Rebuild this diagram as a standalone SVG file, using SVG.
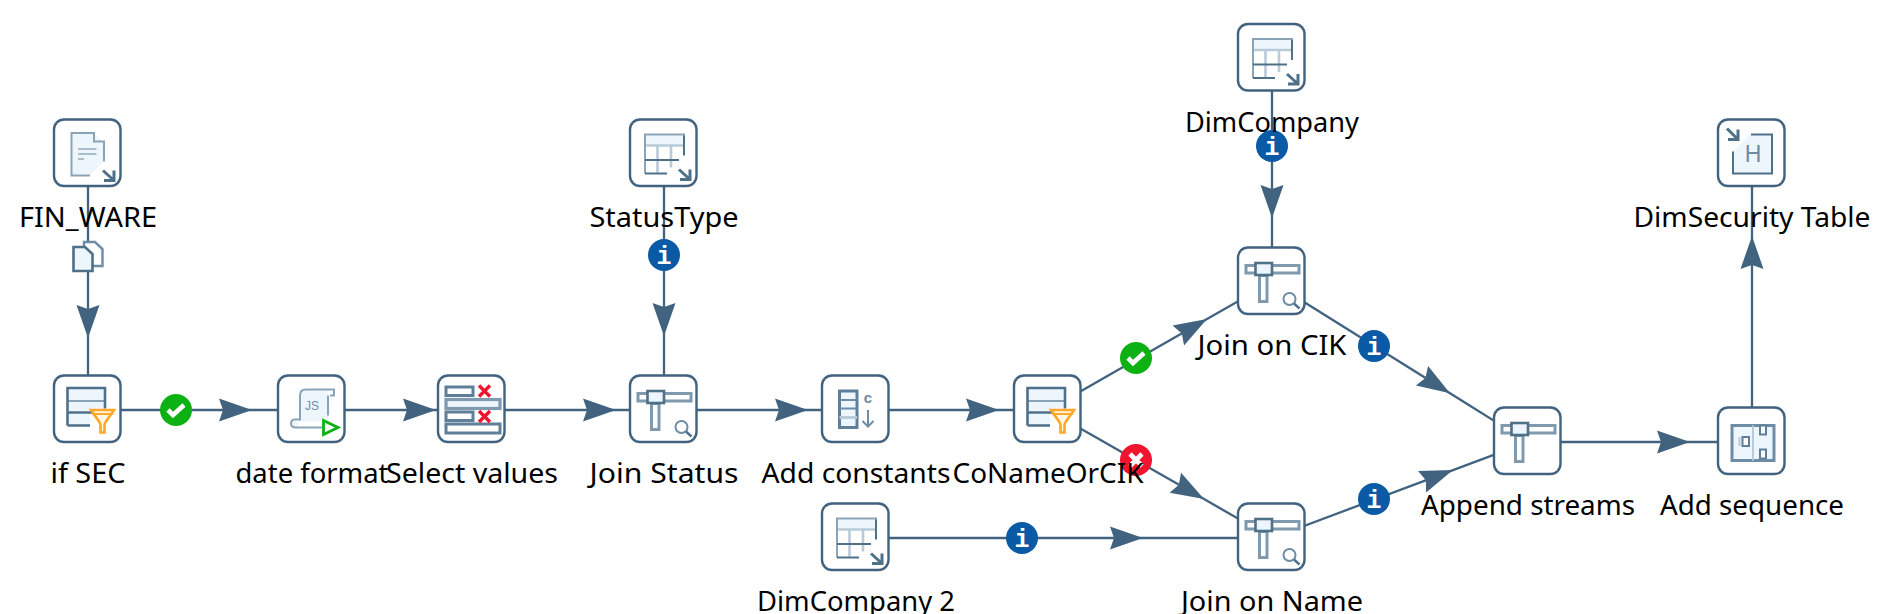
<svg xmlns="http://www.w3.org/2000/svg" xmlns:xlink="http://www.w3.org/1999/xlink" width="1886" height="614" viewBox="0 0 1886 614">
<style>
.box{fill:#fff;stroke:#41637f;stroke-width:2.4}
.lbl{font-family:"Noto Sans","DejaVu Sans",sans-serif;font-size:28px;fill:#000;text-anchor:middle}
.conn{fill:none;stroke:#41637f;stroke-width:2.3;marker-mid:url(#arr)}
.d{fill:none;stroke:#4f7089;stroke-width:2}
.m{fill:none;stroke:#8ba3b7;stroke-width:2}
.l{fill:#eef6fd;stroke:none}
.rx{fill:none;stroke:#f0142f;stroke-width:3.4}
.ic{font-family:"Liberation Sans",sans-serif;fill:#6e8ca5;text-anchor:middle}
.info{font-family:"Liberation Mono",monospace;font-weight:bold;font-size:25px;fill:#fff;text-anchor:middle}
</style>
<defs>
<marker id="arr" markerUnits="userSpaceOnUse" orient="auto" viewBox="-34 -14 36 28" refX="0" refY="0" markerWidth="36" markerHeight="28"><path d="M0,0 L-33,-11.5 L-29,0 L-33,11.5Z" fill="#41637f"/></marker>
<path id="corner" d="M49,50 L60,60 M60,50 V60 H50" fill="none" stroke="#4f7089" stroke-width="3"/>
<g id="table">
<path class="l" d="M16,16 H54 V26 H16Z"/>
<path d="M16,26 H54 M27.500,27 V53 M41,27 V48" fill="none" stroke="#b9cbd8" stroke-width="2.600"/>
<path class="m" d="M15,54 V15 H54 V35" stroke-width="3"/>
<path class="d" d="M15,40.500 H49 M15,54 H37 M54,16 V36"/>
<use xlink:href="#corner"/>
</g>
<g id="filter">
<path class="l" d="M14,13 H51 V38 H36 V50 H14Z"/>
<path class="m" d="M13,25.500 H51" stroke-width="3"/>
<path d="M13.500,50 V12.500 H51 V33 M13.500,37 H38 M13.500,50 H36" fill="none" stroke="#4f7089" stroke-width="2.600"/>
<path d="M37,34.500 H60 L52,46 L50.500,49 V57 H46.500 V49 L45,46Z" fill="#fff6e8" stroke="#ffa726" stroke-width="2.600"/>
<path d="M38,38.500 H59" stroke="#ffa726" stroke-width="2"/>
</g>
<g id="join">
<rect x="8" y="18" width="53" height="7.500" fill="#fff" stroke="#7f99ae" stroke-width="3"/>
<rect x="21.500" y="28" width="7.500" height="26" fill="#fff" stroke="#7f99ae" stroke-width="3"/>
<rect x="17.500" y="15.500" width="16.500" height="12" fill="#eef6fd" stroke="#4f7089" stroke-width="2.600"/>
</g>
<g id="lens"><circle cx="51.500" cy="51.500" r="6" fill="none" stroke="#6e8ca5" stroke-width="2"/><path d="M56,56 L61.500,61" stroke="#4f7089" stroke-width="2.400"/></g>
<g id="ok"><circle r="16" fill="#0eb114"/><path d="M-8,0 L-3,5 L8,-5" fill="none" stroke="#fff" stroke-width="4.600"/></g>
<g id="bad"><circle r="16" fill="#f0142f"/><path d="M-6,-6 L6,6 M6,-6 L-6,6" fill="none" stroke="#fff" stroke-width="4.600"/></g>
<g id="inf"><circle r="16" fill="#0a5aa5"/><text class="info" y="9">i</text></g>
</defs>
<rect width="1886" height="614" fill="#fff"/>

<g id="connectors">
<path class="conn" d="M88,154 L88,338 L88,410"/>
<path class="conn" d="M88,410 L252,410 L312,410"/>
<path class="conn" d="M312,410 L436,410 L472,410"/>
<path class="conn" d="M472,410 L616,410 L664,410"/>
<path class="conn" d="M664,154 L664,336 L664,410"/>
<path class="conn" d="M664,410 L808,410 L856,410"/>
<path class="conn" d="M856,410 L999,410 L1048,410"/>
<path class="conn" d="M1048,410 L1207,319.100 L1272,282"/>
<path class="conn" d="M1048,410 L1204,499.100 L1272,538"/>
<path class="conn" d="M856,538 L1143,538 L1272,538"/>
<path class="conn" d="M1272,58 L1272,218 L1272,282"/>
<path class="conn" d="M1272,282 L1450,393.300 L1528,442"/>
<path class="conn" d="M1272,538 L1453,470.100 L1528,442"/>
<path class="conn" d="M1528,442 L1690,442 L1752,442"/>
<path class="conn" d="M1752,442 L1752,236 L1752,154"/>
<g id="copy-hint">
<path d="M84,242 H95 L102.500,249 V266 H84Z" fill="#fff" stroke="#6e8ca5" stroke-width="2.400"/>
<path d="M73.500,247 H85 L92.500,254 V271 H73.500Z" fill="#eef6fd" stroke="#4f7089" stroke-width="2.600"/>
</g>
<use xlink:href="#ok" x="176" y="410"/>
<use xlink:href="#ok" x="1136" y="358"/>
<use xlink:href="#bad" x="1136" y="460"/>
<use xlink:href="#inf" x="664" y="255"/>
<use xlink:href="#inf" x="1272" y="146"/>
<use xlink:href="#inf" x="1374" y="346"/>
<use xlink:href="#inf" x="1374" y="499"/>
<use xlink:href="#inf" x="1022" y="538"/>
</g>

<g id="FIN_WARE" transform="translate(54,119.500)">
<rect class="box" width="66.500" height="66.500" rx="10"/>
<path class="l" d="M18,14 H40 L50,23 V42 L36,55 H18Z"/>
<path class="m" d="M36,56 H17.500 V13.500 H40 V22 H50 V42" stroke-width="2.800"/>
<path d="M24,29.500 H42.500 M24,34.500 H42.500 M24,39.500 H30" stroke="#a9bdcc" stroke-width="2"/>
<use xlink:href="#corner" y="1"/>
<text class="lbl" x="34" y="107.500" textLength="138" lengthAdjust="spacingAndGlyphs">FIN_WARE</text>
</g>
<g id="if-SEC" transform="translate(54,375.500)">
<rect class="box" width="66.500" height="66.500" rx="10"/>
<use xlink:href="#filter"/>
<text class="lbl" x="34" y="107.500" textLength="75" lengthAdjust="spacingAndGlyphs">if SEC</text>
</g>
<g id="date-format" transform="translate(278,375.500)">
<rect class="box" width="66.500" height="66.500" rx="10"/>
<path class="l" d="M22,14 H50 V46 H14 V52 H40 V52 H20Z"/>
<path class="m" d="M52,20 H56 V14 H28 Q22,14 22,20 V44 H17 Q13,44 13,48 Q13,52 18,52 H44 M50,20 V40" stroke-width="3"/>
<text class="ic" x="34" y="34" font-size="12">JS</text>
<path d="M45.500,45 L60,52 L45.500,59Z" fill="#fff" stroke="#0eb114" stroke-width="2.800"/>
<text class="lbl" x="34" y="107.500" textLength="153" lengthAdjust="spacingAndGlyphs">date format</text>
</g>
<g id="Select-values" transform="translate(438,375.500)">
<rect class="box" width="66.500" height="66.500" rx="10"/>
<rect x="8" y="11.500" width="27" height="8.500" fill="#fff" stroke="#5f7f99" stroke-width="3"/>
<rect x="8" y="24" width="54" height="9" fill="#eef6fd" stroke="#7f99ae" stroke-width="3.200"/>
<rect x="8" y="36.500" width="27" height="8.500" fill="#fff" stroke="#5f7f99" stroke-width="3"/>
<rect x="8" y="48.500" width="54" height="9" fill="#fff" stroke="#5f7f99" stroke-width="3"/>
<path class="rx" d="M41,10 L52,21 M52,10 L41,21 M41,35.500 L52,46.500 M52,35.500 L41,46.500"/>
<text class="lbl" x="34" y="107.500" textLength="172" lengthAdjust="spacingAndGlyphs">Select values</text>
</g>
<g id="StatusType" transform="translate(630,119.500)">
<rect class="box" width="66.500" height="66.500" rx="10"/>
<use xlink:href="#table"/>
<text class="lbl" x="34" y="107.500" textLength="149" lengthAdjust="spacingAndGlyphs">StatusType</text>
</g>
<g id="Join-Status" transform="translate(630,375.500)">
<rect class="box" width="66.500" height="66.500" rx="10"/>
<use xlink:href="#join"/><use xlink:href="#lens"/>
<text class="lbl" x="34" y="107.500" textLength="149" lengthAdjust="spacingAndGlyphs">Join Status</text>
</g>
<g id="Add-constants" transform="translate(822,375.500)">
<rect class="box" width="66.500" height="66.500" rx="10"/>
<rect x="17.500" y="15.500" width="17.500" height="36.500" fill="#eef6fd" stroke="#5f7f99" stroke-width="3"/>
<path d="M17.500,24.500 H35 M17.500,33 H35" stroke="#6e8ca5" stroke-width="2"/>
<path d="M17.500,42 H35" stroke="#b9cbd8" stroke-width="3"/>
<text class="ic" x="46" y="27" font-size="15" font-weight="bold">c</text>
<path d="M46,34.500 V51 M40.500,45.500 L46,51 L51.500,45.500" fill="none" stroke="#6e8ca5" stroke-width="2"/>
<text class="lbl" x="34" y="107.500" textLength="189" lengthAdjust="spacingAndGlyphs">Add constants</text>
</g>
<g id="CoNameOrCIK" transform="translate(1014,375.500)">
<rect class="box" width="66.500" height="66.500" rx="10"/>
<use xlink:href="#filter"/>
<text class="lbl" x="34" y="107.500" textLength="191" lengthAdjust="spacingAndGlyphs">CoNameOrCIK</text>
</g>
<g id="DimCompany-2" transform="translate(822,503.500)">
<rect class="box" width="66.500" height="66.500" rx="10"/>
<use xlink:href="#table"/>
<text class="lbl" x="34" y="107.500" textLength="198" lengthAdjust="spacingAndGlyphs">DimCompany 2</text>
</g>
<g id="DimCompany" transform="translate(1238,24)">
<rect class="box" width="66.500" height="66.500" rx="10"/>
<use xlink:href="#table"/>
<text class="lbl" x="34" y="107.500" textLength="174" lengthAdjust="spacingAndGlyphs">DimCompany</text>
</g>
<g id="Join-on-CIK" transform="translate(1238,247.500)">
<rect class="box" width="66.500" height="66.500" rx="10"/>
<use xlink:href="#join"/><use xlink:href="#lens"/>
<text class="lbl" x="34" y="107.500" textLength="149" lengthAdjust="spacingAndGlyphs">Join on CIK</text>
</g>
<g id="Join-on-Name" transform="translate(1238,503.500)">
<rect class="box" width="66.500" height="66.500" rx="10"/>
<use xlink:href="#join"/><use xlink:href="#lens"/>
<text class="lbl" x="34" y="107.500" textLength="182" lengthAdjust="spacingAndGlyphs">Join on Name</text>
</g>
<g id="Append-streams" transform="translate(1494,407.500)">
<rect class="box" width="66.500" height="66.500" rx="10"/>
<use xlink:href="#join"/>
<text class="lbl" x="34" y="107.500" textLength="214" lengthAdjust="spacingAndGlyphs">Append streams</text>
</g>
<g id="Add-sequence" transform="translate(1718,407.500)">
<rect class="box" width="66.500" height="66.500" rx="10"/>
<rect x="14" y="18" width="42" height="35" fill="#eef6fd" stroke="#6e8ca5" stroke-width="3"/>
<path d="M35,18 V53" stroke="#b9cbd8" stroke-width="2"/>
<rect x="24.500" y="29.500" width="6.500" height="9" fill="#fff" stroke="#5f7f99" stroke-width="2"/>
<path d="M21.500,29.500 V38.500" stroke="#b9cbd8" stroke-width="2"/>
<rect x="42" y="18" width="6" height="9" fill="#fff" stroke="#5f7f99" stroke-width="2"/>
<rect x="42" y="42" width="6" height="9" fill="#fff" stroke="#5f7f99" stroke-width="2"/>
<text class="lbl" x="34" y="107.500" textLength="184" lengthAdjust="spacingAndGlyphs">Add sequence</text>
</g>
<g id="DimSecurity-Table" transform="translate(1718,119.500)">
<rect class="box" width="66.500" height="66.500" rx="10"/>
<path class="l" d="M15,32 L32,15 H54 V54 H15Z"/>
<path class="d" d="M15,32 V54 H54 V15 H33" stroke-width="3"/>
<text class="ic" x="35" y="42" font-size="23">H</text>
<path d="M9,9 L20,20 M20,10 V20 H10" fill="none" stroke="#4f7089" stroke-width="3"/>
<text class="lbl" x="34" y="107.500" textLength="237" lengthAdjust="spacingAndGlyphs">DimSecurity Table</text>
</g>
</svg>
